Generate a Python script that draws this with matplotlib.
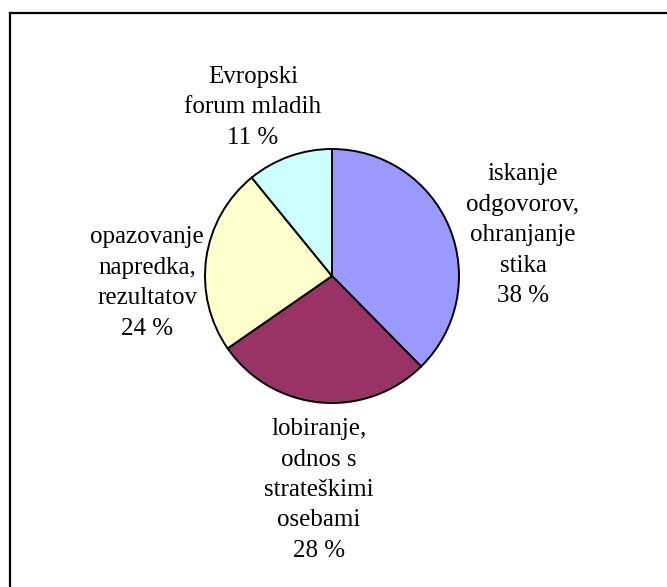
import matplotlib
matplotlib.use("Agg")
import matplotlib.pyplot as plt
from matplotlib.lines import Line2D

# Slice data, clockwise from 12 o'clock
categories = [
    "iskanje\nodgovorov,\nohranjanje\nstika",
    "lobiranje,\nodnos s\nstrateškimi\nosebami",
    "opazovanje\nnapredka,\nrezultatov",
    "Evropski\nforum mladih",
]
values = [38, 28, 24, 11]
colors = ["#9999FF", "#993366", "#FFFFCC", "#CCFFFF"]

W, H = 667, 587
fig = plt.figure(figsize=(W / 100, H / 100), dpi=100)
ax = fig.add_axes([0, 0, 1, 1])

cx, cy, r = 332, H - 276, 127
ax.pie(values, colors=colors, startangle=90, counterclock=False,
       center=(cx, cy), radius=r, frame=True,
       wedgeprops=dict(edgecolor="black", linewidth=1.4))
ax.set_xlim(0, W)
ax.set_ylim(0, H)
ax.set_aspect("equal")
ax.axis("off")

# Label block centres (x, y of the block centre in pixels from the top)
label_pos = [(523, 235), (319, 490), (147, 283), (253, 107)]
for cat, val, (lx, ly) in zip(categories, values, label_pos):
    ax.text(lx, H - ly, f"{cat}\n{val} %", ha="center", va="center",
            multialignment="center", fontsize=18, family="Liberation Serif",
            linespacing=1.5, color="black")

# Chart-area border (top and left edges)
fig.add_artist(Line2D([9.5 / W, 1.0], [1 - 12.5 / H, 1 - 12.5 / H],
                      transform=fig.transFigure, color="black", lw=1.6))
fig.add_artist(Line2D([9.5 / W, 9.5 / W], [1 - 12.5 / H, 0.0],
                      transform=fig.transFigure, color="black", lw=1.6))

fig.savefig("out.png", dpi=100, facecolor="white")
